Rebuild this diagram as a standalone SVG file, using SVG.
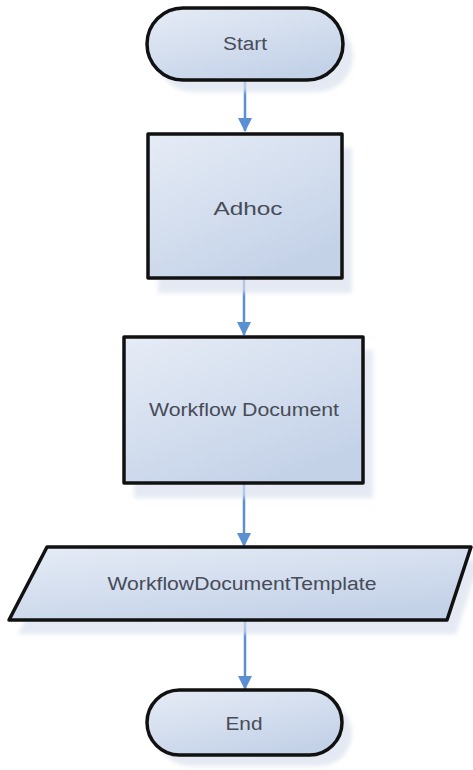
<svg xmlns="http://www.w3.org/2000/svg" width="473" height="770" viewBox="0 0 473 770">
<style>
.shape{fill:url(#g);stroke:#111;stroke-width:3.5;stroke-linejoin:round}
.shadow{fill:#d9e1ee;opacity:0.7;filter:url(#blur)}
.lbl{font-family:"Liberation Sans",Arial,sans-serif;font-size:18px;fill:#474c57;text-anchor:middle}
.conn{stroke:#5a8fd2;stroke-width:2.5;fill:none}
</style>
<defs>
<linearGradient id="g" x1="0" y1="0" x2="0.6" y2="1">
<stop offset="0" stop-color="#e6ecf6"/>
<stop offset="1" stop-color="#c4d2e8"/>
</linearGradient>
<filter id="blur" x="-10%" y="-10%" width="120%" height="120%"><feGaussianBlur stdDeviation="2"/></filter>
<marker id="arr" markerWidth="14" markerHeight="14" refX="13" refY="7" orient="auto" markerUnits="userSpaceOnUse">
<path d="M0,0 L14,7 L0,14 Z" fill="#5a8fd2"/>
</marker>
</defs>
<g id="connectors">
<line class="conn" x1="245" y1="80" x2="245" y2="131" marker-end="url(#arr)"/>
<line class="conn" x1="244" y1="278" x2="244" y2="335" marker-end="url(#arr)"/>
<line class="conn" x1="244" y1="483" x2="244" y2="546" marker-end="url(#arr)"/>
<line class="conn" x1="245" y1="620" x2="245" y2="689" marker-end="url(#arr)"/>
</g>
<g id="start">
<rect class="shadow" x="157" y="20" width="196" height="72" rx="36"/>
<rect class="shape" x="147" y="8" width="196" height="72" rx="36"/>
<text class="lbl" x="245" y="50" textLength="44" lengthAdjust="spacingAndGlyphs">Start</text>
</g>
<g id="adhoc">
<rect class="shadow" x="158" y="148" width="194" height="145"/>
<rect class="shape" x="148" y="134" width="194" height="144"/>
<text class="lbl" x="248" y="215" textLength="69" lengthAdjust="spacingAndGlyphs">Adhoc</text>
</g>
<g id="workflow-document">
<rect class="shadow" x="134" y="350" width="239" height="148"/>
<rect class="shape" x="124" y="337" width="239" height="146"/>
<text class="lbl" x="244" y="416" textLength="190" lengthAdjust="spacingAndGlyphs">Workflow Document</text>
</g>
<g id="workflow-document-template">
<polygon class="shadow" points="56,560 480,560 456,634 18,634"/>
<polygon class="shape" points="47,547 471,547 447,620 9,620"/>
<text class="lbl" x="242" y="590" textLength="269" lengthAdjust="spacingAndGlyphs">WorkflowDocumentTemplate</text>
</g>
<g id="end">
<rect class="shadow" x="157" y="701" width="195" height="65" rx="32.5"/>
<rect class="shape" x="147" y="690" width="195" height="65" rx="32.5"/>
<text class="lbl" x="244" y="730" textLength="37" lengthAdjust="spacingAndGlyphs">End</text>
</g>
</svg>
